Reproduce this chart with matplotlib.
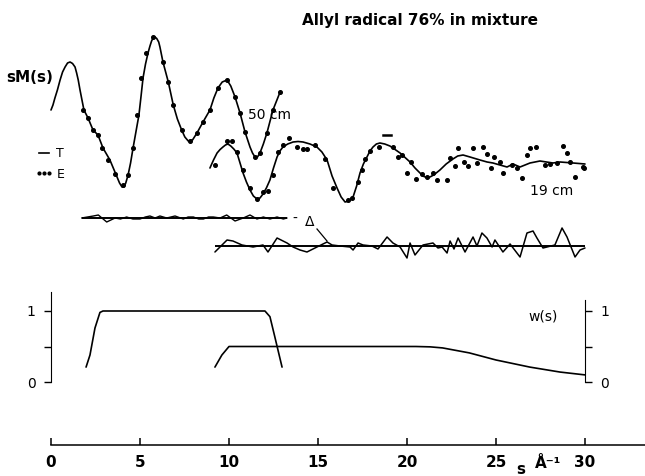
import matplotlib
matplotlib.use("Agg")
import matplotlib.pyplot as plt
import numpy as np
from matplotlib.lines import Line2D

# sM(s) curves (s in 1/A, sM in arbitrary units)
s_50_T = [0.00, 0.11, 0.22, 0.36, 0.51, 0.65, 0.79, 0.93, 1.07, 1.21, 1.35, 1.44, 1.53,
          1.63, 1.74, 1.85, 2.08, 2.36, 2.64, 2.92, 3.31, 3.71, 3.85, 3.99, 4.10, 4.20,
          4.33, 4.47, 4.61, 4.78, 4.94, 5.06, 5.17, 5.31, 5.45, 5.56, 5.65, 5.75, 5.84,
          5.94, 6.05, 6.12, 6.29, 6.59, 6.87, 7.10, 7.34, 7.52, 7.71, 7.95, 8.20, 8.54,
          8.93, 9.15, 9.38, 9.62, 9.89, 10.10, 10.34, 10.62, 10.90, 11.18, 11.32, 11.46,
          11.60, 11.74, 11.93, 12.13, 12.47, 12.87]
sM_50_T = [0.0, 0.5, 1.2, 2.0, 3.0, 3.8, 4.3, 4.7, 4.8, 4.65, 4.3, 3.7, 3.0,
           2.0, 1.0, 0.0, -0.8, -2.0, -2.5, -3.8, -5.0, -6.7, -7.3, -7.7, -7.7, -7.3,
           -6.5, -5.3, -3.8, -2.1, -0.5, 1.4, 3.2, 4.6, 5.7, 6.4, 6.9, 7.25, 7.3,
           7.15, 6.8, 6.3, 4.8, 2.8, 0.5, -0.9, -2.0, -2.7, -3.1, -3.0, -2.3, -1.2,
           0.0, 1.2, 2.2, 2.8, 3.0, 2.4, 1.3, -0.3, -2.2, -3.7, -4.3, -4.7,
           -4.7, -4.3, -3.4, -2.3, 0.0, 1.8]

s_50_E = [1.80, 2.08, 2.36, 2.64, 2.87, 3.20, 3.60, 4.04, 4.33, 4.61, 4.83, 5.06, 5.34,
          5.73, 6.29, 6.57, 6.85, 7.36, 7.81, 8.20, 8.54, 8.93, 9.38, 9.89, 10.34,
          10.62, 10.90, 11.46, 11.74, 12.13, 12.47, 12.87]
sM_50_E = [0.0, -0.8, -2.0, -2.5, -3.8, -5.0, -6.4, -7.5, -6.5, -3.8, -0.5, 3.2, 5.7,
           7.3, 4.8, 2.8, 0.5, -2.0, -3.1, -2.3, -1.2, 0.0, 2.2, 3.0, 1.3,
           -0.3, -2.2, -4.7, -4.3, -2.3, 0.0, 1.8]

s_19_T = [8.93, 9.13, 9.33, 9.50, 9.66, 9.80, 9.94, 10.10, 10.27, 10.45, 10.62, 10.79,
          10.98, 11.18, 11.37, 11.57, 11.74, 11.91, 12.10, 12.30, 12.50, 12.70, 12.86,
          13.03, 13.30, 13.60, 13.88, 14.16, 14.55, 14.94, 15.22, 15.51, 15.79, 16.07,
          16.30, 16.52, 16.75, 16.97, 17.17, 17.36, 17.55, 17.75, 17.92, 18.09, 18.28,
          18.48, 18.75, 19.04, 19.33, 19.61, 19.89, 20.17, 20.45, 20.73, 20.95, 21.18,
          21.50, 21.85, 22.20, 22.58, 22.85, 23.15, 23.54, 24.10, 24.50, 24.83, 25.22,
          25.62, 25.96, 26.35, 26.91, 27.47, 28.20, 28.60, 29.33, 30.00]
sM_19_T = [-0.5, 0.3, 1.0, 1.35, 1.6, 1.8, 1.9, 1.7, 1.4, 1.0, 0.0, -1.0,
           -1.9, -2.7, -3.3, -3.6, -3.5, -3.1, -2.5, -1.7, -0.5, 0.6, 1.2,
           1.6, 1.9, 2.1, 2.15, 2.1, 1.9, 1.6, 1.1, 0.3, -1.3, -2.5,
           -3.4, -3.9, -3.8, -3.4, -2.3, -1.0, -0.1, 0.6, 1.2, 1.6, 1.9,
           2.0, 1.9, 1.7, 1.35, 1.0, 0.55, 0.1, -0.5, -1.0, -1.35, -1.5,
           -1.2, -0.7, -0.1, 0.4, 0.7, 0.8, 0.6, 0.3, 0.1, 0.0, -0.2,
           -0.4, -0.1, -0.4, 0.0, 0.2, 0.0, 0.1, 0.0, -0.1]

s_19_E = [9.21, 9.89, 10.17, 10.45, 10.79, 11.18, 11.57, 11.91, 12.19, 12.47, 12.75, 13.03,
          13.37, 13.82, 14.16, 14.38, 14.83, 15.39, 15.84, 16.69, 16.91, 17.25, 17.47,
          17.64, 17.92, 18.43, 19.21, 19.49, 19.72, 20.00, 20.22, 20.51, 20.84, 21.12,
          21.46, 21.69, 22.25, 22.42, 22.70, 22.87, 23.20, 23.43, 23.71, 23.93, 24.27,
          24.49, 24.72, 24.89, 25.22, 25.39, 25.90, 26.18, 26.46, 26.74, 26.91, 27.25,
          27.75, 28.03, 28.43, 28.76, 28.99, 29.16, 29.44, 29.89, 29.94]
sM_19_E = [-0.2, 2.2, 2.2, 1.1, -0.7, -2.5, -3.6, -2.9, -2.8, -1.2, 1.1, 1.8,
           2.5, 1.6, 1.4, 1.4, 1.8, 0.4, -2.5, -3.7, -3.5, -1.9, -0.7,
           0.4, 1.2, 1.6, 1.6, 0.6, 0.8, -1.0, 0.1, -1.6, -1.1, -1.4,
           -1.0, -1.7, -1.7, 0.5, -0.3, 1.5, 0.1, -0.3, 1.5, 0.0, 1.6,
           0.9, -0.5, 0.6, 0.1, -1.0, -0.2, -0.5, -1.5, 0.8, 1.5, 1.6,
           -0.2, -0.1, 0.0, 1.7, 1.0, 0.1, -1.4, -0.4, -0.5]

# residuals (experiment - theory)
s_D50 = [1.72, 2.05, 2.38, 2.66, 3.13, 3.60, 3.90, 4.25, 4.60, 5.00, 5.30, 5.56, 5.85,
         6.12, 6.50, 6.97, 7.43, 7.70, 8.00, 8.30, 8.56, 8.85, 9.12, 9.50, 9.87, 10.34,
         10.80, 11.18, 11.57, 11.93, 12.30, 12.70, 13.05, 13.26]
D50 = [0.0, 0.1, 0.2, 0.3, -0.4, 0.0, -0.1, 0.1, -0.1, -0.1, 0.1, 0.2, 0.0,
       0.2, 0.0, 0.2, -0.1, 0.1, 0.1, -0.1, -0.1, 0.1, 0.1, 0.0, 0.3, -0.3,
       0.0, 0.3, -0.1, 0.1, -0.1, 0.1, -0.1, 0.0]

s_D19 = [9.21, 9.89, 10.22, 10.73, 11.35, 11.91, 12.19, 12.70, 13.26, 13.60, 13.99, 14.38,
         14.83, 15.28, 15.51, 15.79, 16.24, 16.80, 16.97, 17.25, 17.53, 18.03, 18.37,
         18.88, 19.21, 19.61, 20.00, 20.17, 20.45, 20.90, 21.46, 21.74, 21.97, 22.25,
         22.42, 22.64, 22.87, 23.26, 23.71, 23.93, 24.21, 24.49, 24.78, 24.94, 25.39,
         25.79, 26.35, 26.74, 27.08, 27.30, 27.64, 28.31, 28.71, 28.99, 29.44, 29.72, 30.00]
D19 = [-0.6, 0.6, 0.5, 0.1, -0.1, 0.1, -0.6, 0.8, 0.3, -0.1, -0.4, -0.6,
       -0.2, 0.2, 0.4, 0.1, 0.0, -0.1, -0.4, 0.3, 0.1, 0.0, -0.3,
       0.9, 0.3, -0.1, -1.2, 0.3, -0.9, 0.1, 0.3, -0.2, -0.1, -0.7,
       0.5, -0.3, 0.8, -0.6, 0.9, 0.0, 1.3, 0.8, -0.1, 0.6, -0.6,
       0.2, -1.1, 1.3, 1.5, 0.8, -0.2, 0.1, 1.8, 0.9, -1.1, -0.4, -0.2]

# weight functions w(s)
s_w50 = [1.97, 2.19, 2.47, 2.75, 2.92, 12.02, 12.30, 12.58, 12.98]
w50 = [0.21, 0.38, 0.76, 0.98, 1.0, 1.0, 0.92, 0.63, 0.21]
s_w19 = [9.21, 9.60, 10.00, 20.50, 21.30, 22.00, 23.50, 25.00, 26.90, 28.60, 30.00]
w19 = [0.21, 0.38, 0.50, 0.50, 0.495, 0.48, 0.41, 0.31, 0.21, 0.14, 0.10]

x_ticks = [0, 5, 10, 15, 20, 25, 30]

W, H = 645, 476
PX_PER_S = 17.8
S0_PX = 51


def at(px, py):
    return px / W, 1 - py / H


fig = plt.figure(figsize=(W / 100, H / 100), dpi=100)
plt.rcParams['font.family'] = ['DejaVu Sans']

xlim = (-S0_PX / PX_PER_S, (W - S0_PX) / PX_PER_S)
line_kw = dict(color='black', solid_joinstyle='round', solid_capstyle='round')

# main axes: y unit = 10 px
ax = fig.add_axes([0, 0, 1, 1])
ax.set_xlim(*xlim)
ax.set_ylim(0, H / 10)
ax.patch.set_alpha(0)
for side in ['top', 'left', 'right']:
    ax.spines[side].set_visible(False)
ax.spines['bottom'].set_position(('data', 3.1))
ax.spines['bottom'].set_bounds(0, xlim[1])
ax.spines['bottom'].set_linewidth(1.1)
ax.set_xticks(x_ticks)
ax.set_xticklabels([str(t) for t in x_ticks], fontweight='bold')
ax.tick_params(axis='x', direction='in', length=5, width=1.1, pad=7, labelsize=11)
ax.set_yticks([])

base_50, base_19 = 36.6, 31.3
base_d50, base_d19 = 25.8, 23.0
lw = 1.2

ax.plot(s_50_T, np.array(sM_50_T) + base_50, lw=lw, **line_kw)
ax.plot(s_50_E, np.array(sM_50_E) + base_50, 'o', color='black', ms=2.6)
ax.plot(s_19_T, np.array(sM_19_T) + base_19, lw=lw, **line_kw)
ax.plot(s_19_E, np.array(sM_19_E) + base_19, 'o', color='black', ms=2.6)

ax.hlines(base_d50, s_D50[0], s_D50[-1], color='black', lw=1.4)
ax.plot(s_D50, np.array(D50) + base_d50, lw=1.0, **line_kw)
ax.hlines(base_d19, s_D19[0], s_D19[-1], color='black', lw=1.4)
ax.plot(s_D19, np.array(D19) + base_d19, lw=1.1, **line_kw)

# legend
leg = ax.legend([Line2D([], [], color='black', lw=lw),
                 Line2D([], [], ls='none', marker='o', ms=2, color='black')],
                ['T', 'E'], numpoints=3, frameon=False, fontsize=9,
                handlelength=1.4, handletextpad=0.3, labelspacing=0.6,
                loc='upper left', bbox_to_anchor=at(24, 136), bbox_transform=fig.transFigure)

# w(s) axes: 71 px per unit
ax2 = fig.add_axes([0, 0, 1, 1])
ax2.set_xlim(*xlim)
ax2.set_ylim(-(H - 382) / 71, 382 / 71)
ax2.patch.set_alpha(0)
for side in ['top', 'bottom']:
    ax2.spines[side].set_visible(False)
ax2.spines['left'].set_position(('data', 0))
ax2.spines['left'].set_bounds(0, 1.27)
ax2.spines['right'].set_position(('data', 30))
ax2.spines['right'].set_bounds(0, 1.15)
ax2.set_xticks([])
ax2.set_yticks([0, 0.5, 1])
ax2.set_yticklabels(['0', '', '1'])
ax2.yaxis.set_ticks_position('both')
ax2.tick_params(axis='y', direction='out', length=5, width=1, labelsize=10,
                labelleft=True, labelright=True, pad=6)
ax2.plot(s_w50, w50, lw=lw, **line_kw)
ax2.plot(s_w19, w19, lw=lw, **line_kw)

# texts
fig.text(*at(302, 20), 'Allyl radical 76% in mixture', fontsize=11, fontweight='bold',
         va='center', ha='left')
fig.text(*at(6, 78), 'sM(s)', fontsize=11, fontweight='bold', va='center', ha='left')
fig.text(*at(248, 115), '50 cm', fontsize=10, va='center', ha='left')
fig.text(*at(530, 191), '19 cm', fontsize=10, va='center', ha='left')
fig.text(*at(292, 219), '-', fontsize=10, va='center', ha='left')
fig.text(*at(305, 222), 'Δ', fontsize=10, va='center', ha='left')
fig.text(*at(528, 316), 'w(s)', fontsize=10, va='center', ha='left')
fig.text(*at(516, 470), 's', fontsize=11, fontweight='bold', va='center', ha='left')
fig.text(*at(535, 463), 'Å⁻¹', fontsize=11, fontweight='bold', va='center', ha='left')
fig.add_artist(Line2D([317 / W, 327 / W], [1 - 229 / H, 1 - 241 / H], color='black', lw=0.9))
fig.add_artist(Line2D([383 / W, 391 / W], [1 - 135 / H, 1 - 135 / H], color='black', lw=1.8))

fig.savefig('out.png', dpi=100)
